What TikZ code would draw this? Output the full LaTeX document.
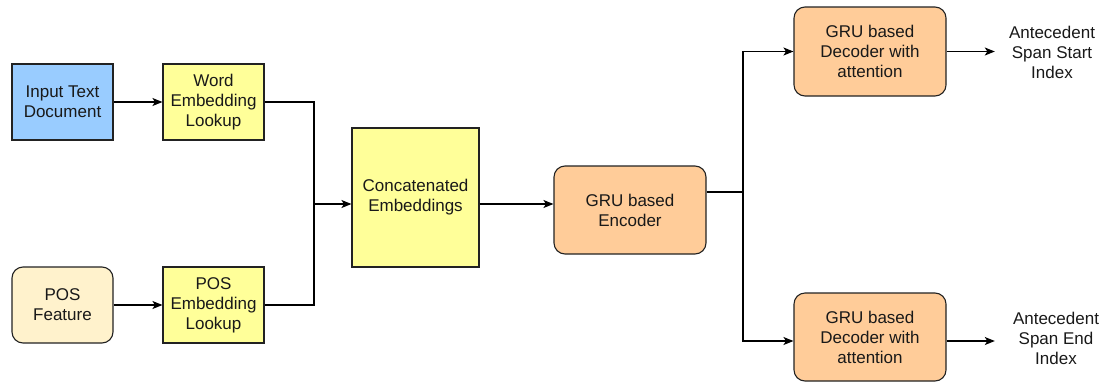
\documentclass[tikz,border=0pt]{standalone}
\usepackage{fontspec}
\setmainfont{Liberation Sans}
\usetikzlibrary{arrows.meta}

\definecolor{inblue}{HTML}{99CCFF}
\definecolor{embyellow}{HTML}{FFFF99}
\definecolor{featcream}{HTML}{FFF2CC}
\definecolor{gruorange}{HTML}{FFCC99}
\definecolor{edge}{HTML}{222222}

\tikzset{
  box/.style={draw=edge, line width=1.1pt, align=center, inner sep=2pt,
    font=\fontsize{17}{20}\selectfont, text=black!90},
  sqbox/.style={box, minimum width=101pt, minimum height=76pt},
  rbox/.style={box, rounded corners=11pt},
  outlabel/.style={align=center, font=\fontsize{17}{20}\selectfont,
    text=black!90, inner sep=0pt},
  flow/.style={draw=black, line width=1.1pt,
    -{Stealth[length=10pt, width=8pt, inset=2.5pt]}},
  wire/.style={draw=black, line width=1.1pt}
}

\begin{document}
\begin{tikzpicture}[x=1pt, y=-1pt]
  \useasboundingbox (0,0) rectangle (1107,383);

  % inputs and lookups
  \node[sqbox, fill=inblue] (input) at (62.5,102) {Input Text\\Document};
  \node[sqbox, fill=embyellow] (wordemb) at (213.5,102) {Word\\Embedding\\Lookup};
  \node[sqbox, rbox, fill=featcream] (posfeat) at (62.5,305) {POS\\Feature};
  \node[sqbox, fill=embyellow] (posemb) at (213.5,305) {POS\\Embedding\\Lookup};

  % concatenation and encoder
  \node[box, fill=embyellow, minimum width=127pt, minimum height=139pt] (concat) at (415.5,197.5) {Concatenated\\Embeddings};
  \node[rbox, fill=gruorange, minimum width=152pt, minimum height=88pt] (enc) at (630,210) {GRU based\\Encoder};

  % decoders
  \node[rbox, fill=gruorange, minimum width=152pt, minimum height=89pt] (dec1) at (870,51.5) {GRU based\\Decoder with\\attention};
  \node[rbox, fill=gruorange, minimum width=152pt, minimum height=88pt] (dec2) at (870,337) {GRU based\\Decoder with\\attention};

  % outputs (label boxes start where the arrows end)
  \node[outlabel, minimum width=114pt] (out1) at (1052,52) {Antecedent\\Span Start\\Index};
  \node[outlabel, minimum width=122pt] (out2) at (1056,338) {Antecedent\\Span End\\Index};

  % junction points
  \coordinate (merge) at (314,204);
  \coordinate (split) at (743,192);
  \coordinate (low) at (743,341);

  % connectors
  \draw[flow] (input) -- (wordemb);
  \draw[flow] (posfeat) -- (posemb);
  \draw[wire] (wordemb.east) -| (merge);
  \draw[wire] (posemb.east) -| (merge);
  \draw[flow] (merge) -- (concat.west |- merge);
  \draw[flow] (concat.east |- merge) -- (enc.west |- merge);
  \draw[wire] (enc.east |- split) -- (split);
  \draw[flow] (split) |- (dec1.west);
  \draw[flow] (split) |- (dec2.west |- low);
  \draw[flow] (dec1.east) -- (out1.west |- dec1.east);
  \draw[flow] (dec2.east |- low) -- (out2.west |- low);
\end{tikzpicture}
\end{document}
